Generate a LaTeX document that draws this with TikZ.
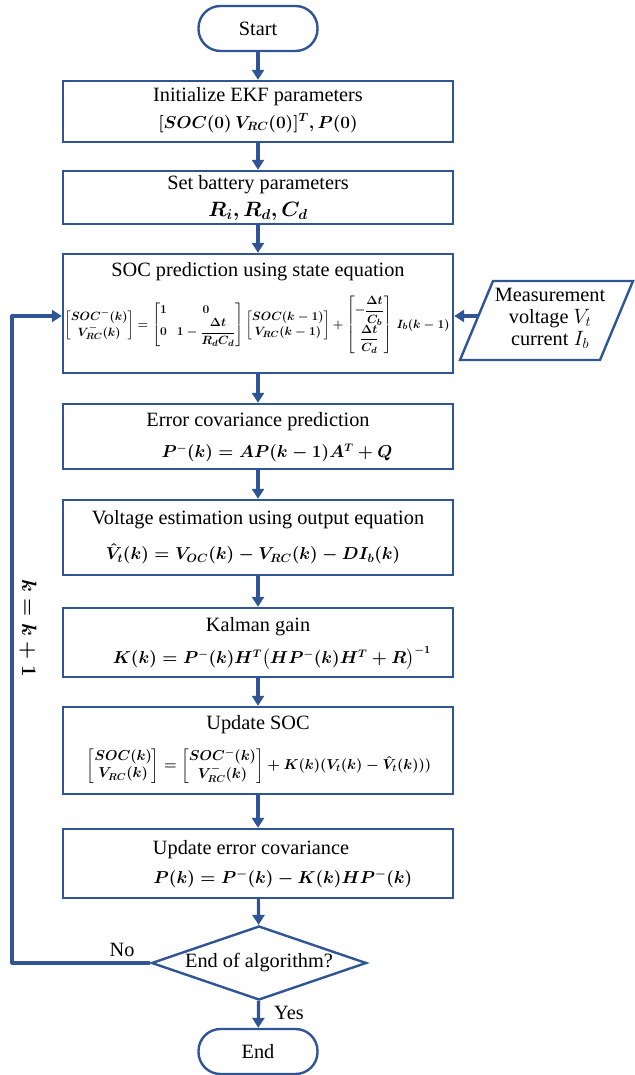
\documentclass[tikz,border=0pt]{standalone}
\usepackage{fontspec}
\setmainfont{Liberation Serif}
\usepackage{amsmath,bm}
\usetikzlibrary{arrows.meta,shapes.geometric}
\definecolor{fb}{HTML}{2F5597}
\begin{document}
\begin{tikzpicture}[x=1pt,y=-1pt,
  box/.style={draw=fb,line width=2.4pt,minimum width=390pt,inner sep=0pt},
  pill/.style={draw=fb,line width=2.4pt,rounded corners=22pt,minimum width=119pt,minimum height=45pt,inner sep=0pt,font=\fontsize{20.3}{24}\selectfont},
  txt/.style={inner sep=0pt,font=\fontsize{20.3}{24}\selectfont,align=center},
  eqn/.style={inner sep=0pt,font=\fontsize{17}{21}\selectfont},
  arr/.style={draw=fb,line width=3.2pt,-{Triangle[length=10pt,width=12pt]}},
  loopline/.style={draw=fb,line width=3.2pt,line join=round,-{Triangle[length=10pt,width=12pt]}}]
\useasboundingbox (0,0) rectangle (634,1075);

% nodes
\node[pill] (start) at (258,28.5) {Start};

\node[box,minimum height=61pt] (init) at (258,111.5) {};
\node[txt] (initt) at (258,97) {Initialize EKF parameters};
\node[eqn,font=\fontsize{18}{22}\selectfont] (inite) at (258,123) {{\boldmath$\lbrack SOC(0)\,V_{RC}(0)\rbrack^T, P(0)$}};

\node[box,minimum height=53pt] (set) at (258,197.5) {};
\node[txt] (sett) at (258,185) {Set battery parameters};
\node[eqn,font=\fontsize{20}{24}\selectfont] (sete) at (258,211) {{\boldmath$R_i, R_d, C_d$}};

\node[box,minimum height=119pt] (soc) at (258,313.5) {};
\node[txt] (soct) at (258,272) {SOC prediction using state equation};
\node[inner sep=0pt,font=\fontsize{13}{15.5}\selectfont] (soce) at (257,325) {{\boldmath$\begin{bmatrix}SOC^-(k)\\ V_{RC}^-(k)\end{bmatrix}
 = \begin{bmatrix}1 & 0\\ 0 & 1-\dfrac{\Delta t}{R_dC_d}\end{bmatrix}
 \begin{bmatrix}SOC(k-1)\\ V_{RC}(k-1)\end{bmatrix}
 + \begin{bmatrix}-\dfrac{\Delta t}{C_b}\\[5pt] \dfrac{\Delta t}{C_d}\end{bmatrix}\, I_b(k-1)$}};

\node[box,minimum height=65pt] (err) at (258,436.5) {};
\node[txt] (errt) at (258,422) {Error covariance prediction};
\node[eqn,font=\fontsize{16}{20}\selectfont] (erre) at (277,453) {{\boldmath$P^-(k) = AP(k-1)A^T + Q$}};

\node[box,minimum height=75pt] (volt) at (258,537.5) {};
\node[txt] (voltt) at (258,520) {Voltage estimation using output equation};
\node[eqn,font=\fontsize{17.5}{22}\selectfont] (volte) at (253,554) {{\boldmath$\hat V_t(k) = V_{OC}(k) - V_{RC}(k) - DI_b(k)$}};

\node[box,minimum height=69pt] (kal) at (258,642.5) {};
\node[txt] (kalt) at (258,627) {Kalman gain};
\node[eqn,font=\fontsize{16}{20}\selectfont] (kale) at (272,658) {{\boldmath$K(k) = P^-(k)H^T\bigl(HP^-(k)H^T + R\bigr)^{-1}$}};

\node[box,minimum height=87pt] (upd) at (258,750.5) {};
\node[txt] (updt) at (258,725) {Update SOC};
\node[inner sep=0pt,font=\fontsize{14}{17}\selectfont] (upde) at (259,766) {{\boldmath$\begin{bmatrix}SOC(k)\\ V_{RC}(k)\end{bmatrix} = \begin{bmatrix}SOC^-(k)\\ V^-_{RC}(k)\end{bmatrix} + K(k)(V_t(k) - \hat V_t(k)))$}};

\node[box,minimum height=69pt] (uerr) at (258,863.5) {};
\node[txt] (uerrt) at (251,850) {Update error covariance};
\node[eqn,font=\fontsize{16.5}{20}\selectfont] (uerre) at (283,879) {{\boldmath$P(k) = P^-(k) - K(k)HP^-(k)$}};

\node[diamond,draw=fb,line width=2.4pt,aspect=2.95,minimum width=215pt,minimum height=74pt,inner sep=0pt,font=\fontsize{20.3}{24}\selectfont] (dec) at (259,963) {End of algorithm?};

\node[pill] (end) at (258,1051.5) {End};

% measurement parallelogram
\coordinate (m1) at (493,281);
\coordinate (m2) at (633,281);
\coordinate (m3) at (600,360);
\coordinate (m4) at (460,360);
\draw[fb,line width=2.4pt,line join=miter] (m1) -- (m2) -- (m3) -- (m4) -- cycle;
\node[txt] (meas) at (550,318) {Measurement\\[-2pt] voltage $V_t$\\[-2pt] current $I_b$};
\coordinate (min) at (479,316);

% labels
\node[txt] (no) at (122,950) {No};
\node[txt] (yes) at (289,1013) {Yes};
\node[eqn,font=\fontsize{20.5}{24}\selectfont,rotate=-90] (kk) at (28,628) {{\boldmath$k = k + 1$}};

% connectors
\draw[arr] (start) -- (init);
\draw[arr] (init) -- (set);
\draw[arr] (set) -- (soc);
\draw[arr] (soc) -- (err);
\draw[arr] (err) -- (volt);
\draw[arr] (volt) -- (kal);
\draw[arr] (kal) -- (upd);
\draw[arr] (upd) -- (uerr);
\draw[arr] (uerr) -- (dec);
\draw[arr] (dec) -- (end);
\draw[arr] (min) -- (min -| soc.east);
\coordinate (lb) at (12,963);
\coordinate (lt) at (12,316);
\draw[loopline] (dec.west) -- (lb) -- (lt) -- (lt -| soc.west);
\end{tikzpicture}
\end{document}
